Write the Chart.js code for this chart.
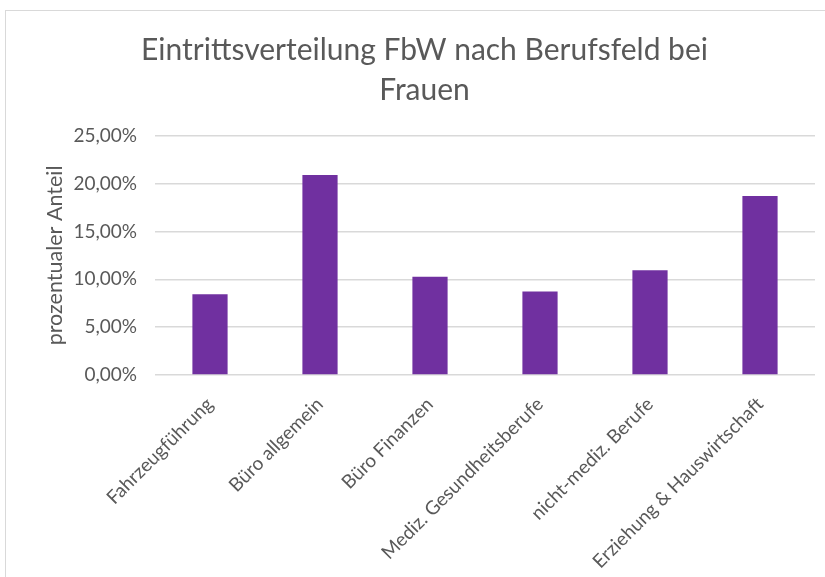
<!DOCTYPE html>
<html>
<head>
<meta charset="utf-8">
<script src="https://cdn.jsdelivr.net/npm/chart.js@4"></script>
<style>
  body { margin: 0; background: #fff; overflow: hidden; }
  #wrap { position: relative; width: 825px; height: 577px; }
  #frame { position: absolute; left: 5px; top: 10px; width: 900px; height: 700px; border: 1px solid #d9d9d9; }
  #box { position: absolute; left: 0; top: 0; width: 825px; height: 577px; }
</style>
</head>
<body>
<div id="wrap">
  <div id="frame"></div>
  <div id="box"><canvas id="chart"></canvas></div>
</div>
<script>
// Berufsfelder (x-Achse)
const categories = [
    "Fahrzeugführung",
    "Büro allgemein",
    "Büro Finanzen",
    "Mediz. Gesundheitsberufe",
    "nicht-mediz. Berufe",
    "Erziehung & Hauswirtschaft"
]
// Anteil in Prozent
const anteil = [8.43, 20.89, 10.27, 8.74, 10.94, 18.70]
const titleLines = ["Eintrittsverteilung FbW nach Berufsfeld bei", "Frauen"]
const yTitle = "prozentualer Anteil"

const fontFam = "Lato, 'Open Sans', sans-serif"
const grey = "#595959"

function fmtPct(v){
    return v.toFixed(2).replace(".", ",") + "%"
}

const ctx = document.querySelector("#chart")

const myChart = new Chart(ctx, {
    type: 'bar',
    data: {
        labels: categories,
        datasets: [
            {
                label: 'Anteil',
                data: anteil,
                backgroundColor: '#7030A0',
                borderWidth: 0,
                barPercentage: 0.32,
                categoryPercentage: 1
            }
        ]
    },
    options: {
        animation: false,
        responsive: true,
        maintainAspectRatio: false,
        layout: {
            // links etwas Platz, damit der Titel wie in Excel mittig sitzt
            padding: {left: 34, right: 10, top: 0, bottom: 0}
        },
        plugins: {
            legend: {display: false},
            tooltip: {enabled: false},
            title: {
                display: true,
                text: titleLines,
                color: grey,
                font: {family: fontFam, size: 30, weight: 'normal', lineHeight: 1.33},
                padding: {top: 30, bottom: 26}
            }
        },
        scales: {
            x: {
                grid: {display: false},
                border: {display: false},
                ticks: {
                    color: grey,
                    font: {family: fontFam, size: 19},
                    minRotation: 45,
                    maxRotation: 45,
                    padding: 10,
                    autoSkip: false
                },
                afterFit: (scale) => { scale.height = 202 }
            },
            y: {
                min: 0,
                max: 25,
                grid: {color: '#d9d9d9', lineWidth: 1.5, drawTicks: false},
                border: {display: false},
                ticks: {
                    stepSize: 5,
                    color: grey,
                    font: {family: fontFam, size: 19},
                    padding: 18,
                    callback: (v) => fmtPct(v)
                },
                title: {
                    display: true,
                    text: yTitle,
                    color: grey,
                    font: {family: fontFam, size: 21.5},
                    padding: {top: 8, bottom: 0}
                },
                afterFit: (scale) => { scale.width = 121 }
            }
        }
    }
})
</script>
</body>
</html>
